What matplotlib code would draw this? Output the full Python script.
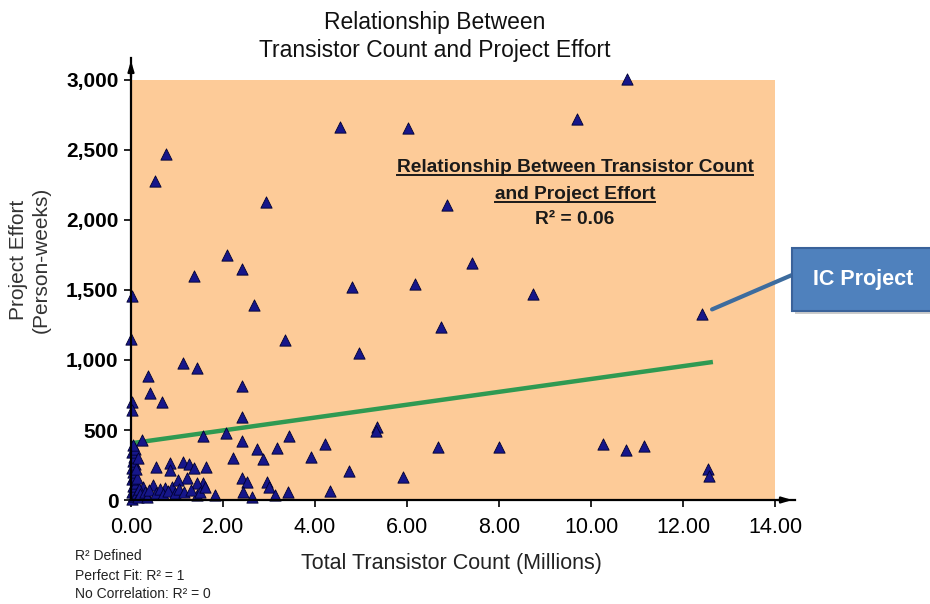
import numpy as np
import matplotlib.pyplot as plt
from matplotlib.patches import Rectangle

plt.rcParams['font.family'] = ['Liberation Sans', 'DejaVu Sans']

# 晶体管数量(百万) 与 项目工作量(人周)
count = [10.78, 9.70, 4.54, 6.02, 0.76, 0.52, 2.93, 6.87, 2.09, 7.41,
         2.41, 1.37, 6.17, 4.80, 8.74, 0.02, 2.67, 12.41, 6.74, 3.35,
         0.00, 4.96, 1.13, 1.43, 0.37, 2.41, 0.41, 0.67, 0.02, 0.02,
         2.41, 5.35, 5.33, 1.57, 2.07, 3.43, 0.24, 2.41, 4.22, 6.67,
         8.00, 10.26, 10.76, 11.15, 2.74, 3.17, 2.22, 2.87, 3.91, 0.54,
         0.85, 0.85, 1.13, 1.26, 1.37, 1.63, 4.74, 5.91, 12.54, 12.57,
         1.22, 2.41, 2.52, 2.96, 3.00, 3.41, 4.33, 2.43, 2.63, 3.13,
         1.83, 1.43, 0.89, 1.02, 1.57, 1.43, 0.48, 0.26, 0.74,
         0.03, 0.06, 0.02, 0.08, 0.04, 0.10, 0.03, 0.07, 0.05, 0.02,
         0.09, 0.04, 0.06, 0.03, 0.08, 0.05, 0.12, 0.15, 0.18, 0.20,
         0.30, 0.35, 0.40, 0.55, 0.62, 0.70, 0.80, 0.95, 1.05, 1.15,
         1.30, 1.50, 1.60, 0.12, 0.10, 0.15]
effort = [3010, 2720, 2665, 2655, 2470, 2280, 2130, 2105, 1750, 1695,
          1650, 1600, 1540, 1520, 1475, 1460, 1395, 1330, 1235, 1145,
          1150, 1050, 980, 945, 885, 815, 765, 700, 700, 645,
          595, 525, 495, 460, 480, 460, 430, 420, 400, 380,
          380, 400, 355, 385, 365, 370, 300, 295, 305, 235,
          265, 215, 270, 255, 230, 235, 210, 165, 220, 170,
          155, 155, 130, 130, 95, 60, 65, 55, 20, 35,
          35, 35, 95, 145, 120, 120, 105, 95, 85,
          10, 30, 55, 75, 100, 125, 150, 175, 200, 230,
          255, 280, 310, 340, 365, 390, 50, 20, 80, 40,
          60, 25, 75, 50, 80, 40, 65, 50, 80, 60,
          75, 60, 90, 160, 220, 300]

# 趋势线 R^2 = 0.06
trend_x = [0.0, 12.65]
trend_y = [405, 986]

ic_x, ic_y = 12.41, 1330

xticks = [0, 2, 4, 6, 8, 10, 12, 14]
yticks = [0, 500, 1000, 1500, 2000, 2500, 3000]

W, H = 930, 604
fig = plt.figure(figsize=(W / 100, H / 100), dpi=100)
ax = fig.add_axes([131 / W, (H - 500) / H, 664 / W, 442 / H])
ax.set_xlim(0, 664 / 46.0)
ax.set_ylim(0, 442 / 0.14)
ax.set_facecolor('white')

ax.add_patch(Rectangle((0, 0), 14, 3000, fc='#FDCB98', ec='none', zorder=0))
ax.plot(trend_x, trend_y, color='#2f9a52', lw=3.2, zorder=2, solid_capstyle='butt')
ax.scatter(count, effort, marker='^', s=66, c='#16168a', edgecolors='#000030',
           linewidths=0.6, zorder=3, clip_on=False)

for s in ['top', 'right']:
    ax.spines[s].set_visible(False)
for s in ['left', 'bottom']:
    ax.spines[s].set_linewidth(1.6)
    ax.spines[s].set_zorder(4)
ax.annotate('', xy=(1.0, 0), xytext=(0.97, 0), xycoords='axes fraction',
            arrowprops=dict(arrowstyle='-|>,head_width=0.18,head_length=0.6', color='k', lw=1.6))
ax.annotate('', xy=(0, 1.0), xytext=(0, 0.95), xycoords='axes fraction',
            arrowprops=dict(arrowstyle='-|>,head_width=0.18,head_length=0.6', color='k', lw=1.6))

ax.set_xticks(xticks)
ax.set_xticklabels(['%.2f' % v for v in xticks], fontsize=15.5)
ax.set_yticks(yticks)
ax.set_yticklabels(['{:,}'.format(v) for v in yticks], fontsize=15, fontweight='bold')
ax.tick_params(direction='out', length=5, width=1.2, pad=4)
ax.tick_params(axis='x', pad=7)

def fx(px):
    return px / W

def fy(py):
    return 1 - py / H

# 标题
fig.text(fx(435), fy(22), 'Relationship Between', ha='center', va='center', fontsize=16.5, color='#111111')
fig.text(fx(435), fy(50), 'Transistor Count and Project Effort', ha='center', va='center',
         fontsize=16.5, color='#111111')

# 坐标轴标题
fig.text(fx(451), fy(563), 'Total Transistor Count (Millions)', ha='center', va='center',
         fontsize=15.5, color='#222222')
fig.text(fx(19), fy(260), 'Project Effort', rotation=90, ha='center', va='center',
         fontsize=15, color='#333333')
fig.text(fx(41), fy(260), '(Person-weeks)', rotation=90, ha='center', va='center',
         fontsize=15, color='#333333')

# 图内说明 (带下划线)
t1 = fig.text(fx(575), fy(168), 'Relationship Between Transistor Count', ha='center', va='center',
              fontsize=13.8, fontweight='bold', color='#1a1a1a')
t2 = fig.text(fx(575), fy(195), 'and Project Effort', ha='center', va='center',
              fontsize=13.8, fontweight='bold', color='#1a1a1a')
fig.text(fx(575), fy(219), 'R² = 0.06', ha='center', va='center',
         fontsize=13.8, fontweight='bold', color='#1a1a1a')

fig.canvas.draw()
r = fig.canvas.get_renderer()
for t in [t1, t2]:
    bb = t.get_window_extent(r)
    fig.add_artist(plt.Line2D([bb.x0 / W, bb.x1 / W], [bb.y0 / H + 0.002, bb.y0 / H + 0.002],
                              transform=fig.transFigure, color='#1a1a1a', lw=1.4))

# 左下角说明
fig.text(fx(75), fy(556), 'R² Defined', ha='left', va='center', fontsize=10, color='#222222')
fig.text(fx(75), fy(576), 'Perfect Fit: R² = 1', ha='left', va='center', fontsize=10, color='#222222')
fig.text(fx(75), fy(594), 'No Correlation: R² = 0', ha='left', va='center', fontsize=10, color='#222222')

# IC Project 标注
fig.add_artist(Rectangle((fx(795), fy(314)), 150 / W, 63 / H, transform=fig.transFigure,
                         fc='#9a9a9a', ec='none', alpha=0.5))
fig.add_artist(Rectangle((fx(792), fy(311)), 150 / W, 63 / H, transform=fig.transFigure,
                         fc='#4F81BD', ec='#3A629A', lw=1.5))
fig.text(fx(863), fy(280), 'IC Project', ha='center', va='center', fontsize=15.5,
         fontweight='bold', color='white')
ax.annotate('', xy=(ic_x, ic_y), xytext=(792, H - 275), textcoords='figure pixels',
            arrowprops=dict(arrowstyle='-', color='#3D6C9E', lw=3, shrinkA=0, shrinkB=8))

fig.savefig('out.png', dpi=100)
